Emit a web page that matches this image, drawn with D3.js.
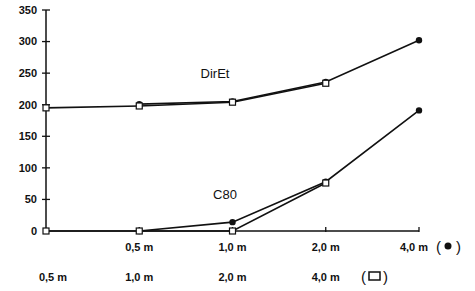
<!DOCTYPE html>
<html><head><meta charset="utf-8">
<script src="https://cdn.jsdelivr.net/npm/d3@7"></script>
<style>body{margin:0;background:#fff}svg{display:block}text{font-family:"Liberation Sans",Arial,sans-serif;font-weight:bold;fill:#111}text.n{font-weight:normal}</style>
</head><body>
<script>
const positions = [0, 1, 2, 3, 4];
const circleLabels = ["", "0,5 m", "1,0 m", "2,0 m", "4,0 m"];
const squareLabels = ["0,5 m", "1,0 m", "2,0 m", "4,0 m"];
const yTicks = [0, 50, 100, 150, 200, 250, 300, 350];
// filled circle series (x positions 1..4)
const dirEtCircle = [201, 205, 236, 302];
const c80Circle = [0, 14, 78, 191];
// open square series (x positions 0..3)
const dirEtSquare = [195, 198, 204, 234];
const c80Square = [0, 0, 0, 76];
const seriesNames = ["DirEt", "C80"];

const W = 475, H = 291;
const svg = d3.select("body").append("svg").attr("width", W).attr("height", H);
const x = d3.scaleLinear().domain([0, 4]).range([46, 419]);
const y = d3.scaleLinear().domain([0, 350]).range([231, 10]);

// y axis
svg.append("line").attr("x1", x(0)).attr("x2", x(0)).attr("y1", y(0)).attr("y2", y(350)).attr("stroke", "#111").attr("stroke-width", 1.5);
yTicks.forEach(t => {
  if (t > 0) svg.append("line").attr("x1", x(0) - 4).attr("x2", x(0) + 4).attr("y1", y(t)).attr("y2", y(t)).attr("stroke", "#111").attr("stroke-width", 1.3);
  svg.append("text").attr("x", 37).attr("y", y(t)).attr("dy", "0.35em").attr("text-anchor", "end").attr("font-size", 11).text(t);
});
// x axis
svg.append("line").attr("x1", x(0)).attr("x2", x(4)).attr("y1", y(0)).attr("y2", y(0)).attr("stroke", "#111").attr("stroke-width", 1.5);
positions.forEach(p => {
  if (p > 0) svg.append("line").attr("x1", x(p)).attr("x2", x(p)).attr("y1", y(0) - 4).attr("y2", y(0) + 1).attr("stroke", "#111").attr("stroke-width", 1.3);
  if (circleLabels[p]) svg.append("text").attr("x", x(p) - (p === 4 ? 5 : 0)).attr("y", 251).attr("text-anchor", "middle").attr("font-size", 11).text(circleLabels[p]);
});
squareLabels.forEach((l, i) => {
  svg.append("text").attr("x", x(i) + (i === 0 ? 7 : 0)).attr("y", 281).attr("text-anchor", "middle").attr("font-size", 11).text(l);
});
// legend symbols
svg.append("text").attr("class", "n").attr("x", 436).attr("y", 252).attr("font-size", 15).text("(");
svg.append("circle").attr("cx", 448).attr("cy", 246).attr("r", 3.5).attr("fill", "#111");
svg.append("text").attr("class", "n").attr("x", 456).attr("y", 252).attr("font-size", 15).text(")");
svg.append("text").attr("class", "n").attr("x", 361).attr("y", 282).attr("font-size", 15).text("(");
svg.append("rect").attr("x", 369).attr("y", 272).attr("width", 11).attr("height", 8).attr("fill", "none").attr("stroke", "#111").attr("stroke-width", 1.5);
svg.append("text").attr("class", "n").attr("x", 383).attr("y", 282).attr("font-size", 15).text(")");

const line = d3.line().x(d => x(d[0])).y(d => y(d[1]));
const circleSeries = [dirEtCircle, c80Circle].map(s => s.map((v, i) => [i + 1, v]));
const squareSeries = [dirEtSquare, c80Square].map(s => s.map((v, i) => [i, v]));

[...circleSeries, ...squareSeries].forEach(s => {
  svg.append("path").attr("d", line(s)).attr("fill", "none").attr("stroke", "#111").attr("stroke-width", 1.6);
});
circleSeries.forEach(s => s.forEach(d => {
  svg.append("circle").attr("cx", x(d[0])).attr("cy", y(d[1])).attr("r", 3.2).attr("fill", "#111");
}));
squareSeries.forEach(s => s.forEach(d => {
  svg.append("rect").attr("x", x(d[0]) - 3).attr("y", y(d[1]) - 3).attr("width", 6).attr("height", 6).attr("fill", "#fff").attr("stroke", "#111").attr("stroke-width", 1.2);
}));

svg.append("text").attr("class", "n").attr("x", 215).attr("y", 78).attr("text-anchor", "middle").attr("font-size", 13).text(seriesNames[0]);
svg.append("text").attr("class", "n").attr("x", 225).attr("y", 199).attr("text-anchor", "middle").attr("font-size", 13).text(seriesNames[1]);
</script>
</body></html>
